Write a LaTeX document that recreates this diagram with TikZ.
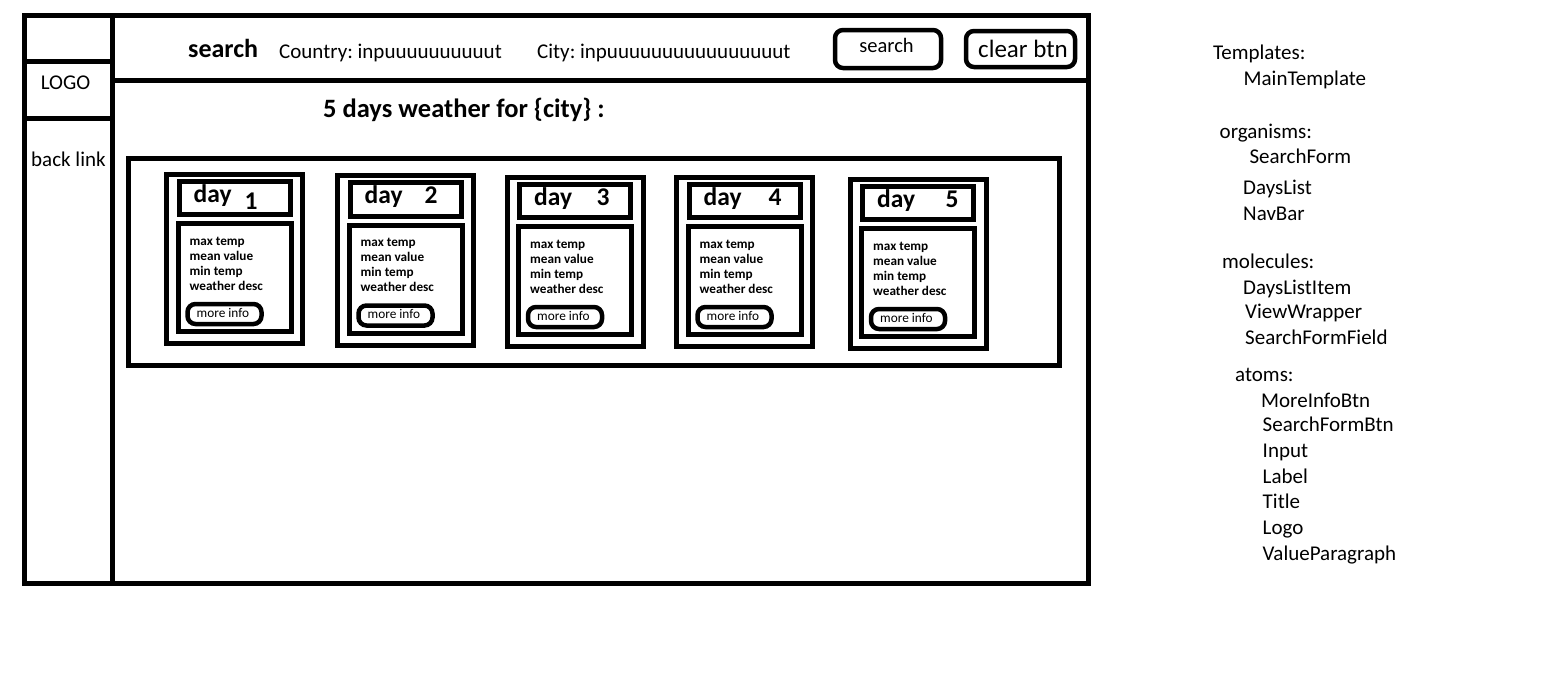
\documentclass[tikz,border=0pt]{standalone}
\usepackage{fontspec}
\setmainfont{Carlito}
\frenchspacing
\newcommand\mkbox[6]{\node[#1, minimum width={(#5)-(#3)}, minimum height={(#6)-(#4)}] (#2) at ({((#3)+(#5))/2},{((#4)+(#6))/2}) {};}
\tikzset{
  wire/.style={draw, line width=5pt, inner sep=0pt, outer sep=0pt},
  pill/.style={draw, line width=4.5pt, rounded corners=8pt, inner sep=0pt, outer sep=0pt},
  lbl/.style={inner sep=0pt, anchor=base west, font=\fontsize{21}{24}\selectfont},
  clbl/.style={lbl, anchor=base},
  bigb/.style={inner sep=0pt, anchor=base west, font=\fontsize{26.5}{30}\selectfont\bfseries},
  dayf/.style={inner sep=0pt, anchor=base west, font=\fontsize{25.5}{28}\selectfont\bfseries},
  dayn/.style={dayf, anchor=base},
  small/.style={inner sep=0pt, anchor=base west, font=\fontsize{13.2}{15}\selectfont\bfseries},
  tinyt/.style={inner sep=0pt, anchor=base west, font=\fontsize{13.3}{15}\selectfont},
}
\begin{document}
\begin{tikzpicture}[x=1pt,y=-1pt]
\useasboundingbox (0,0) rectangle (1566,672);
% page frame
\mkbox{wire}{page}{24.7}{15.3}{1088}{583.5}
\mkbox{wire}{corner}{24.7}{15.3}{112.5}{61.7}
\mkbox{wire}{logo}{24.7}{61.7}{112.5}{118.7}
\mkbox{wire}{side}{24.7}{118.7}{112.5}{583.5}
\mkbox{wire}{header}{112.5}{15.3}{1088}{80.8}
\mkbox{wire}{content}{112.5}{80.8}{1088}{583.5}
\node[clbl] (logot) at (65.5,89) {LOGO};
\node[lbl] (backt) at (31,166) {back link};
% header
\node[bigb, font=\fontsize{26}{30}\selectfont\bfseries] (searcht) at (188,57) {search};
\node[lbl] (country) at (279,58) {Country: inpuuuuuuuuuut};
\node[lbl] (city) at (537,58) {City: inpuuuuuuuuuuuuuuuut};
\mkbox{pill}{sbtn}{835}{30}{941}{68}
\mkbox{pill}{cbtn}{966}{31}{1075}{67}
\node[clbl, font=\fontsize{20.5}{24}\selectfont] (sbtnt) at (886.5,52) {search};
\node[clbl, font=\fontsize{25}{28}\selectfont] (cbtnt) at (1023,57) {clear btn};
% title
\node[bigb] (title) at (323,117) {5 days weather for \{city\} :};
% days list
\mkbox{wire}{dayslist}{128.5}{158}{1059}{365}
\foreach \i/\cx/\cy/\nx/\ny in {1/166.5/174/84.5/35, 2/337.5/175.5/93.5/28, 3/507/177/96/28, 4/676.5/177/98.5/28, 5/850/179/102/28}{
  \mkbox{wire}{card\i}{\cx}{\cy}{\cx+136}{\cy+169.5}
  \mkbox{wire}{head\i}{\cx+12.5}{\cy+7}{\cx+123.5}{\cy+40.5}
  \mkbox{wire}{body\i}{\cx+11.5}{\cy+49.5}{\cx+124.5}{\cy+157.5}
  \mkbox{pill}{more\i}{\cx+21}{\cy+130}{\cx+95}{\cy+150}
  \node[dayf] (dayt\i) at (\cx+27,\cy+28) {day};
  \node[dayn] (dayn\i) at (\cx+\nx,\cy+\ny) {\i};
  \node[small] (la\i) at (\cx+23,\cy+71) {max temp};
  \node[small] (lb\i) at (\cx+23,\cy+86) {mean value};
  \node[small] (lc\i) at (\cx+23,\cy+101) {min temp};
  \node[small] (ld\i) at (\cx+23,\cy+116) {weather desc};
  \node[tinyt] (mt\i) at (\cx+30,\cy+143) {more info};
}
% legend
\node[lbl] (r1) at (1212.8,59.5) {Templates:};
\node[lbl] (r2) at (1243.5,85.7) {MainTemplate};
\node[lbl] (r3) at (1219.5,138) {organisms:};
\node[lbl] (r4) at (1249.3,163.5) {SearchForm};
\node[lbl] (r5) at (1243,194.5) {DaysList};
\node[lbl] (r6) at (1243,220) {NavBar};
\node[lbl] (r7) at (1222,268.5) {molecules:};
\node[lbl] (r8) at (1243,294) {DaysListItem};
\node[lbl] (r9) at (1245,318) {ViewWrapper};
\node[lbl] (r10) at (1245,344) {SearchFormField};
\node[lbl] (r11) at (1235,381.5) {atoms:};
\node[lbl] (r12) at (1261,407) {MoreInfoBtn};
\node[lbl] (r13) at (1262.5,431.5) {SearchFormBtn};
\node[lbl] (r14) at (1262.5,457) {Input};
\node[lbl] (r15) at (1262.5,483) {Label};
\node[lbl] (r16) at (1262.5,508) {Title};
\node[lbl] (r17) at (1262.5,534) {Logo};
\node[lbl] (r18) at (1262.5,560) {ValueParagraph};
\end{tikzpicture}
\end{document}
